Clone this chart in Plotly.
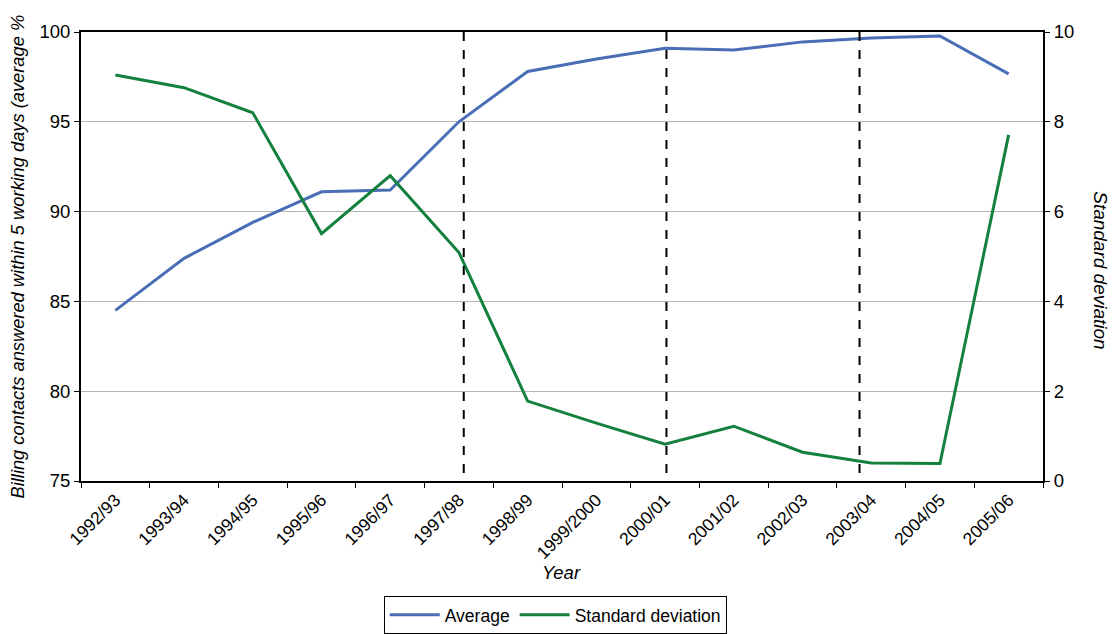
import plotly.graph_objects as go

years = ["1992/93", "1993/94", "1994/95", "1995/96", "1996/97", "1997/98", "1998/99",
         "1999/2000", "2000/01", "2001/02", "2002/03", "2003/04", "2004/05", "2005/06"]
average = [84.5, 87.4, 89.4, 91.1, 91.2, 95.0, 97.8, 98.5, 99.1, 99.0, 99.45, 99.67, 99.78, 97.67]
std_dev = [9.04, 8.76, 8.2, 5.51, 6.8, 5.09, 1.78, 1.29, 0.82, 1.22, 0.64, 0.40, 0.39, 7.71]
# positions of the dashed reference lines (in category units)
break_positions = [5.07, 8.02, 10.83]

FONT = "Liberation Sans, Arial, sans-serif"
BLUE = "#4A6EB5"
GREEN = "#14803E"

fig = go.Figure()
fig.add_trace(go.Scatter(x=years, y=average, name="Average", mode="lines",
                         line=dict(color=BLUE, width=3), yaxis="y"))
fig.add_trace(go.Scatter(x=years, y=std_dev, name="Standard deviation", mode="lines",
                         line=dict(color=GREEN, width=3), yaxis="y2"))

for xp in break_positions:
    fig.add_shape(type="line", xref="x", yref="y", x0=xp, x1=xp, y0=75.45, y1=100,
                  line=dict(color="black", width=2, dash="dash"), layer="above")

fig.update_layout(
    width=1112, height=626,
    margin=dict(l=73, r=77, t=24, b=153, autoexpand=False),
    plot_bgcolor="white", paper_bgcolor="white",
    font=dict(family=FONT, size=17, color="black"),
    showlegend=True,
    legend=dict(orientation="h", x=0.493, y=-0.256, xanchor="center", yanchor="top",
                bordercolor="black", borderwidth=1, font=dict(size=17.5),
                itemwidth=50, tracegroupgap=0),
    xaxis=dict(type="category", range=[-0.5, 13.5], tickangle=-45, automargin=False,
               showline=True, linecolor="black", linewidth=2, mirror=True,
               ticks="outside", ticklen=5, tickcolor="black", tickson="boundaries",
               showgrid=False, tickfont=dict(size=17.5)),
    yaxis=dict(range=[75, 100], dtick=5, showline=True, linecolor="black", linewidth=2,
               ticks="outside", ticklen=5, tickcolor="black", automargin=False,
               showgrid=True, gridcolor="#B4B4B4", gridwidth=1, zeroline=False,
               tickfont=dict(size=18.5)),
    yaxis2=dict(range=[0, 10], dtick=2, overlaying="y", side="right", automargin=False,
                showline=True, linecolor="black", linewidth=2,
                ticks="outside", ticklen=5, tickcolor="black",
                showgrid=False, zeroline=False, tickfont=dict(size=18.5)),
    annotations=[
        dict(text="<i>Billing contacts answered within 5 working days (average %</i>",
             xref="paper", yref="paper", x=-0.0655, y=0.5, xanchor="center", yanchor="middle",
             textangle=-90, showarrow=False, font=dict(size=18.3)),
        dict(text="<i>Standard deviation</i>", xref="paper", yref="paper",
             x=1.059, y=0.47, xanchor="center", yanchor="middle",
             textangle=90, showarrow=False, font=dict(size=19)),
        dict(text="<i>Year</i>", xref="paper", yref="paper", x=0.499, y=-0.2027,
             xanchor="center", yanchor="middle", showarrow=False, font=dict(size=18.5)),
    ],
)

fig.write_html("out.html")
